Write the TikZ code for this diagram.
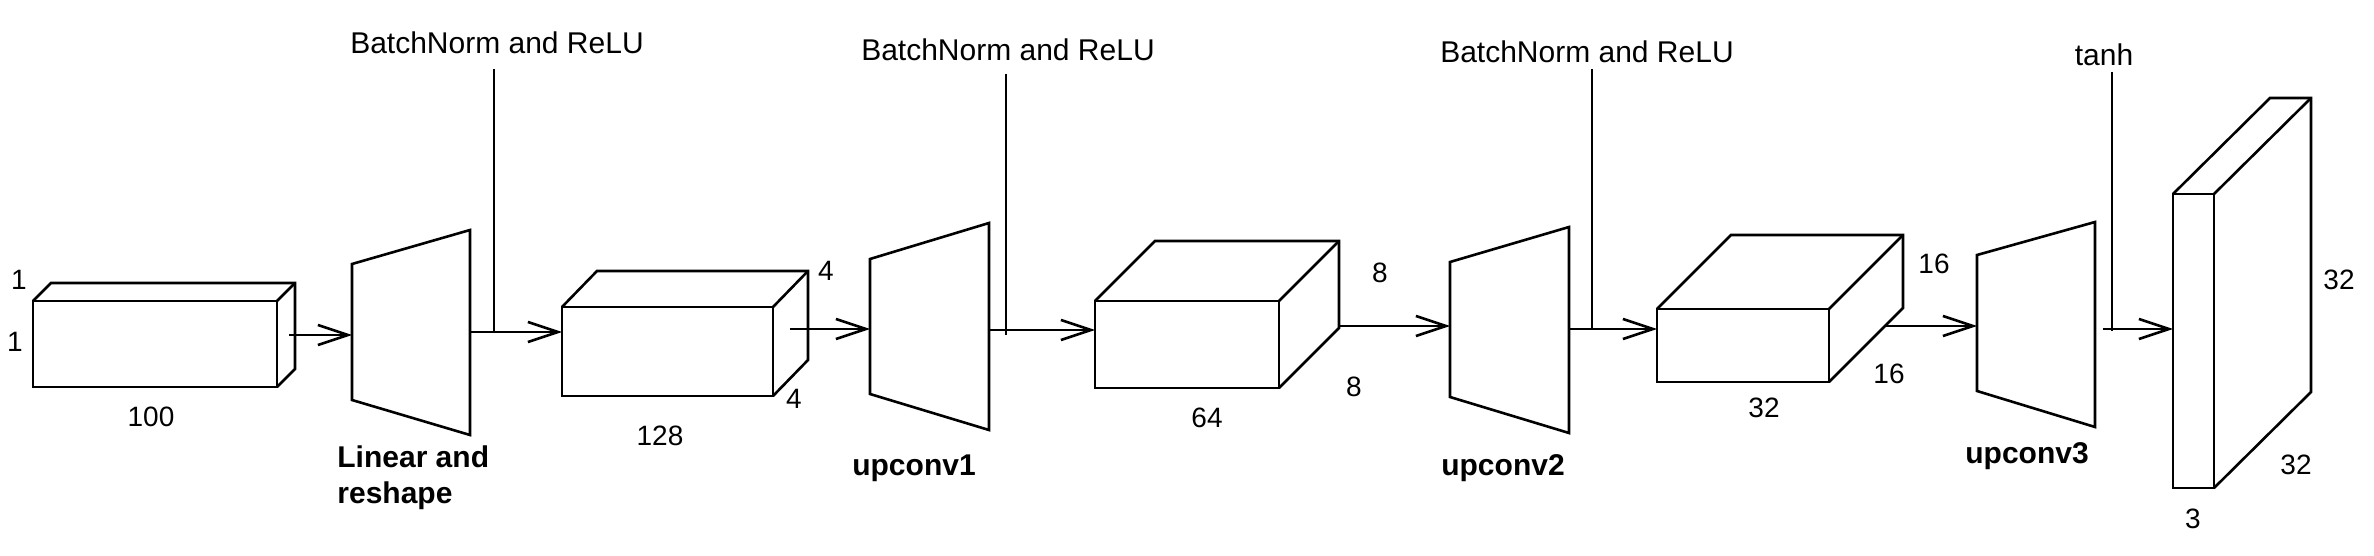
\documentclass[tikz,border=0pt]{standalone}
\usepackage{fontspec}
\setmainfont{Liberation Sans}
\usetikzlibrary{arrows.meta}
\newcommand\mycube[7]{%
  \coordinate (#1-nw) at (#2,#3);
  \coordinate (#1-se) at (#4,#5);
  \draw[box] (#2,#3) rectangle (#4,#5);
  \draw[box] (#2,#3) -- ({#2+#6},{#3-#7}) -- ({#4+#6},{#3-#7}) -- ({#4+#6},{#5-#7}) -- (#4,#5);
  \draw[box] ({#4+#6},{#3-#7}) -- (#4,#3);
}
\newcommand\mytrap[7]{%
  \coordinate (#1-lt) at (#2,#3);
  \coordinate (#1-lb) at (#2,#4);
  \coordinate (#1-rt) at (#5,#6);
  \coordinate (#1-rb) at (#5,#7);
  \draw[box] (#1-lt) -- (#1-rt) -- (#1-rb) -- (#1-lb) -- cycle;
}
\begin{document}
\begin{tikzpicture}[x=0.5pt,y=-0.5pt,
  box/.style={line width=1.3pt, line join=miter},
  arr/.style={line width=1.3pt, -{Straight Barb[length=15pt,width=10pt]}},
  vline/.style={line width=1.2pt},
  lbl/.style={font=\fontsize{15}{18}\selectfont, inner sep=0pt},
  num/.style={font=\fontsize{14}{17}\selectfont, inner sep=0pt},
  bold/.style={font=\fontsize{15}{18}\selectfont\bfseries, inner sep=0pt, align=left}]
\useasboundingbox (0,0) rectangle (2374,556);

% blocks
\mycube{b1}{33}{301}{277}{387}{18}{18}
\mycube{b2}{562}{307}{773}{396}{35}{36}
\mycube{b3}{1095}{301}{1279}{388}{60}{60}
\mycube{b4}{1657}{309}{1829}{382}{74}{74}
\mycube{b5}{2173}{194}{2214}{488}{97}{96}

% trapezoids
\mytrap{t1}{352}{264}{400}{470}{230}{435}
\mytrap{t2}{870}{259}{394}{989}{223}{430}
\mytrap{t3}{1450}{262}{397}{1569}{227}{433}
\mytrap{t4}{1977}{255}{391}{2095}{222}{427}

% connector end points
\coordinate (a1s) at (289,335);  \coordinate (a1e) at (352,335);
\coordinate (a2s) at (470,332);  \coordinate (a2e) at (562,332);
\coordinate (a3s) at (790,329);  \coordinate (a3e) at (870,329);
\coordinate (a4s) at (989,330);  \coordinate (a4e) at (1095,330);
\coordinate (a5s) at (1339,326); \coordinate (a5e) at (1450,326);
\coordinate (a6s) at (1569,329); \coordinate (a6e) at (1657,329);
\coordinate (a7s) at (1886,326); \coordinate (a7e) at (1977,326);
\coordinate (a8s) at (2103,329); \coordinate (a8e) at (2173,329);

\draw[arr] (a1s) -- (a1e);
\draw[arr] (a2s) -- (a2e);
\draw[arr] (a3s) -- (a3e);
\draw[arr] (a4s) -- (a4e);
\draw[arr] (a5s) -- (a5e);
\draw[arr] (a6s) -- (a6e);
\draw[arr] (a7s) -- (a7e);
\draw[arr] (a8s) -- (a8e);

% activation lines
\coordinate (v1t) at (494,69);   \coordinate (v1b) at (494,332);
\coordinate (v2t) at (1006,74);  \coordinate (v2b) at (1006,335);
\coordinate (v3t) at (1592,69);  \coordinate (v3b) at (1592,329);
\coordinate (v4t) at (2112,72);  \coordinate (v4b) at (2112,331);
\draw[vline] (v1t) -- (v1b);
\draw[vline] (v2t) -- (v2b);
\draw[vline] (v3t) -- (v3b);
\draw[vline] (v4t) -- (v4b);

% activation labels
\node[lbl] (bn1) at (497,43) {BatchNorm and ReLU};
\node[lbl] (bn2) at (1008,50) {BatchNorm and ReLU};
\node[lbl] (bn3) at (1587,52) {BatchNorm and ReLU};
\node[lbl] (tanh) at (2104,55) {tanh};

% layer names
\node[bold, anchor=west] (n1) at (337,478) {Linear and\\reshape};
\node[bold] (n2) at (914,468) {upconv1};
\node[bold] (n3) at (1503,468) {upconv2};
\node[bold] (n4) at (2027,456) {upconv3};

% dimensions
\node[num] (d1a) at (19,280) {1};
\node[num] (d1b) at (15,342) {1};
\node[num] (d1c) at (151,417) {100};
\node[num] (d2a) at (660,436) {128};
\node[num] (d2b) at (826,271) {4};
\node[num] (d2c) at (794,399) {4};
\node[num] (d3a) at (1207,418) {64};
\node[num] (d3b) at (1380,273) {8};
\node[num] (d3c) at (1354,387) {8};
\node[num] (d4a) at (1764,408) {32};
\node[num] (d4b) at (1934,264) {16};
\node[num] (d4c) at (1889,374) {16};
\node[num] (d5a) at (2339,280) {32};
\node[num] (d5b) at (2296,465) {32};
\node[num] (d5c) at (2193,519) {3};
\end{tikzpicture}
\end{document}
